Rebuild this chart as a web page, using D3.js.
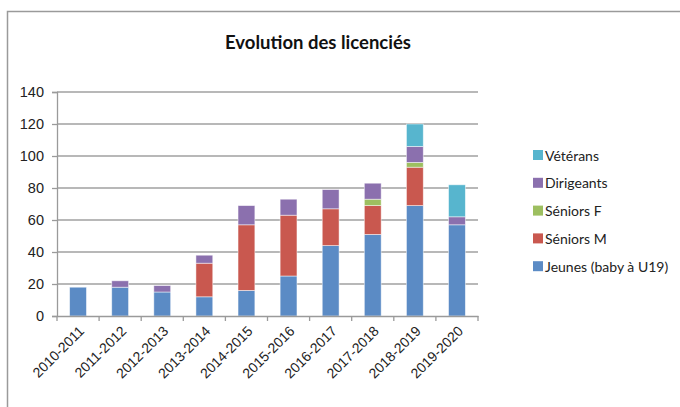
<!DOCTYPE html>
<html>
<head>
<meta charset="utf-8">
<script src="https://cdn.jsdelivr.net/npm/d3@7"></script>
<style>
  body { margin: 0; background: #fff; }
  svg { font-family: Lato, "Noto Sans", sans-serif; }
</style>
</head>
<body>
<div id="chart-area"></div>
<script>
var seasons = ["2010-2011", "2011-2012", "2012-2013", "2013-2014", "2014-2015",
    "2015-2016", "2016-2017", "2017-2018", "2018-2019", "2019-2020"];
var seriesNames = ["Jeunes (baby à U19)", "Séniors M", "Séniors F", "Dirigeants", "Vétérans"];
var jeunes     = [18, 18, 15, 12, 16, 25, 44, 51, 69, 57];
var seniorsM   = [0, 0, 0, 21, 41, 38, 23, 18, 24, 0];
var seniorsF   = [0, 0, 0, 0, 0, 0, 0, 4, 3, 0];
var dirigeants = [0, 4, 4, 5, 12, 10, 12, 10, 10, 5];
var veterans   = [0, 0, 0, 0, 0, 0, 0, 0, 14, 20];
var yTicks = [0, 20, 40, 60, 80, 100, 120, 140];
var colours = ["#5B8BC5", "#C9584F", "#9DBF60", "#8B70AE", "#57B5CE"];

var W = 680, H = 407;
var margin = { left: 57, right: 202, top: 92, bottom: 91 },
    width = W - margin.left - margin.right,
    height = H - margin.top - margin.bottom;

var svg = d3.select("#chart-area").append("svg")
    .attr("width", W)
    .attr("height", H);

// chart border
svg.append("path")
    .attr("d", "M7.5," + H + "V11.5H" + W)
    .attr("fill", "none")
    .attr("stroke", "#9a9a9a")
    .attr("stroke-width", 1.5);

svg.append("text")
    .attr("x", 318)
    .attr("y", 49)
    .attr("text-anchor", "middle")
    .attr("font-size", "18.5px")
    .attr("font-weight", "bold")
    .attr("fill", "#111")
    .text("Evolution des licenciés");

var g = svg.append("g")
    .attr("transform", "translate(" + margin.left + "," + margin.top + ")");

var table = seasons.map(function(s, i) {
    return { season: s, s0: jeunes[i], s1: seniorsM[i], s2: seniorsF[i], s3: dirigeants[i], s4: veterans[i] };
});
var keys = ["s0", "s1", "s2", "s3", "s4"];
var stacked = d3.stack().keys(keys)(table);

var x = d3.scaleBand().domain(seasons).range([0, width]).paddingInner(0.6).paddingOuter(0.3);
var xOuter = d3.scaleBand().domain(seasons).range([0, width]);
var y = d3.scaleLinear().domain([0, 140]).range([height, 0]);

// gridlines
g.selectAll(".grid")
    .data(yTicks.slice(1))
    .enter().append("line")
    .attr("x1", 0).attr("x2", width)
    .attr("y1", function(d) { return y(d); })
    .attr("y2", function(d) { return y(d); })
    .attr("stroke", "#a0a0a0")
    .attr("stroke-width", 1.3);

// bars
g.selectAll(".series")
    .data(stacked)
    .enter().append("g")
    .attr("fill", function(d, i) { return colours[i]; })
    .selectAll("rect")
    .data(function(d) { return d.filter(function(p) { return p[1] > p[0]; }); })
    .enter().append("rect")
    .attr("x", function(d) { return x(d.data.season); })
    .attr("width", x.bandwidth())
    .attr("y", function(d) { return y(d[1]); })
    .attr("height", function(d) { return y(d[0]) - y(d[1]); })
    .attr("stroke", "rgba(255,255,255,0.6)")
    .attr("stroke-width", 0.8);

// y axis
var yAxis = g.append("g")
    .call(d3.axisLeft(y).tickValues(yTicks).tickSize(5).tickPadding(8));
yAxis.select(".domain").attr("stroke", "#9a9a9a").attr("stroke-width", 1.3);
yAxis.selectAll(".tick line").attr("stroke", "#9a9a9a").attr("stroke-width", 1.3);
yAxis.selectAll("text").attr("font-size", "14.5px").attr("fill", "#222");

// x axis
var xAxis = g.append("g")
    .attr("transform", "translate(0," + height + ")")
    .call(d3.axisBottom(xOuter).tickSize(0).tickFormat(""));
xAxis.select(".domain").attr("stroke", "#9a9a9a").attr("stroke-width", 1.3);
xAxis.selectAll(".tick").remove();

xAxis.selectAll(".xtick")
    .data(d3.range(seasons.length + 1))
    .enter().append("line")
    .attr("x1", function(d) { return d * xOuter.bandwidth(); })
    .attr("x2", function(d) { return d * xOuter.bandwidth(); })
    .attr("y1", 0).attr("y2", 5)
    .attr("stroke", "#9a9a9a")
    .attr("stroke-width", 1.3);

xAxis.selectAll(".xlabel")
    .data(seasons)
    .enter().append("text")
    .attr("text-anchor", "end")
    .attr("font-size", "14px")
    .attr("fill", "#222")
    .attr("transform", function(d) {
        return "translate(" + (xOuter(d) + xOuter.bandwidth() / 2 + 7) + ",16) rotate(-45)";
    })
    .text(function(d) { return d; });

// legend
var legendOrder = [4, 3, 2, 1, 0];
var legend = svg.append("g")
    .attr("transform", "translate(533,150)");

legendOrder.forEach(function(idx, i) {
    var row = legend.append("g")
        .attr("transform", "translate(0," + (i * 27.8) + ")");
    row.append("rect")
        .attr("width", 10)
        .attr("height", 10)
        .attr("fill", colours[idx]);
    row.append("text")
        .attr("x", 12)
        .attr("y", 10.5)
        .attr("font-size", "14px")
        .attr("fill", "#222")
        .text(seriesNames[idx]);
});
</script>
</body>
</html>
